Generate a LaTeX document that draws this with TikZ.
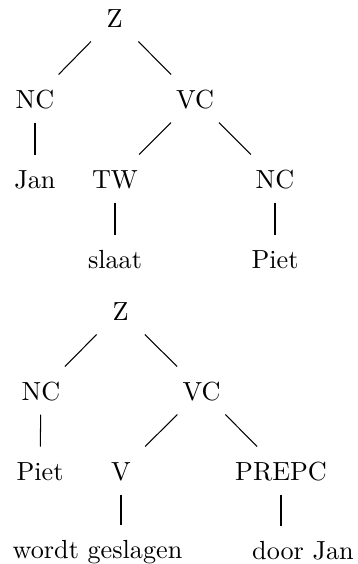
\documentclass[tikz,border=0pt]{standalone}
\usepackage{tikz}

\begin{document}
\begin{tikzpicture}[
  x=0.382pt, y=-0.382pt,
  cat/.style={anchor=base, inner ysep=0pt, text height=12.6pt, text depth=5.35pt, minimum width=20pt},
  word/.style={cat},
  branch/.style={draw=black, line width=0.4pt}
]
\useasboundingbox (0,0) rectangle (357,564);

% Active: Jan slaat Piet
\node[cat] (z1) at (114.5,27) {Z};
\node[cat] (nc1) at (35,108) {NC};
\node[cat] (vc1) at (195,108) {VC};
\node[word] (jan1) at (35,188) {Jan};
\node[cat] (tw1) at (115,188) {TW};
\node[cat] (nc2) at (275,188) {NC};
\node[word] (slaat1) at (115,268) {slaat};
\node[word] (piet1) at (275,268) {Piet};
\draw[branch] (z1) -- (nc1);
\draw[branch] (z1) -- (vc1);
\draw[branch] (nc1) -- (jan1);
\draw[branch] (vc1) -- (tw1);
\draw[branch] (vc1) -- (nc2);
\draw[branch] (tw1) -- (slaat1);
\draw[branch] (nc2) -- (piet1);

% Passive: Piet wordt geslagen door Jan
\node[cat] (z2) at (120.5,320) {Z};
\node[cat] (nc3) at (41,400) {NC};
\node[cat] (vc2) at (201.5,400) {VC};
\node[word] (piet2) at (40,480) {Piet};
\node[cat] (v2) at (121,480) {V};
\node[cat] (prepc2) at (281,480) {PREPC};
\node[word] (ws2) at (97.5,558) {wordt geslagen};
\node[word] (dj2) at (303,559) {door Jan};
\draw[branch] (z2) -- (nc3);
\draw[branch] (z2) -- (vc2);
\draw[branch] (nc3) -- (piet2);
\draw[branch] (vc2) -- (v2);
\draw[branch] (vc2) -- (prepc2);
\draw[branch] (v2) -- (v2 |- ws2.north);
\draw[branch] (prepc2) -- (prepc2 |- dj2.north);
\end{tikzpicture}
\end{document}
